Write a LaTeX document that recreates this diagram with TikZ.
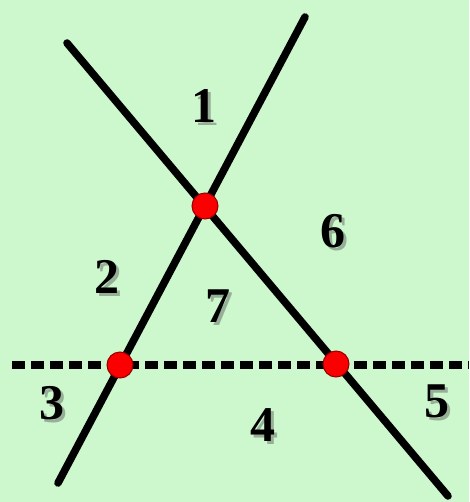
\documentclass[tikz,border=0pt]{standalone}
\usepackage{fontspec}
\setmainfont{Liberation Serif}
\definecolor{bg}{RGB}{205,247,205}
\definecolor{dotred}{RGB}{250,0,0}
\definecolor{dotedge}{RGB}{150,0,0}
\definecolor{shad}{RGB}{150,175,150}
\newcommand{\shadtxt}[1]{\rlap{\kern3pt\raisebox{-3pt}{\textcolor{shad}{#1}}}#1}
\begin{document}
\begin{tikzpicture}[x=1pt,y=-1pt,
  ln/.style={line width=7.5pt,black,line cap=round},
  dln/.style={line width=7.5pt,black,dash pattern=on 13pt off 6pt},
  dot/.style={circle,fill=dotred,draw=dotedge,line width=1pt,minimum size=26pt,inner sep=0pt},
  lab/.style={font=\fontsize{50}{50}\selectfont\bfseries,text=black,inner sep=0pt}]
\fill[bg] (0,0) rectangle (469,502);
\useasboundingbox (0,0) rectangle (469,502);
\coordinate (a1) at (67,43);
\coordinate (a2) at (448,496);
\coordinate (b1) at (305,17);
\coordinate (b2) at (58,483);
\coordinate (c1) at (12,365);
\coordinate (c2) at (469,365);
% soft shadows of the lines
\begin{scope}[opacity=0.18,shift={(3,3)}]
\draw[ln] (a1) -- (a2);
\draw[ln] (b1) -- (b2);
\end{scope}
\draw[ln] (a1) -- (a2);
\draw[ln] (b1) -- (b2);
\draw[dln] (c1) -- (c2);
\node[dot] (p1) at (205,206) {};
\node[dot] (p2) at (120,365) {};
\node[dot] (p3) at (336,364) {};
\foreach \n/\x/\y in {1/204/107,6/333/233,2/107/278,7/218/308,3/52/405,4/263/427,5/437/403}{
  \node[lab] (l\n) at (\x,\y) {\shadtxt{\n}};
}
\end{tikzpicture}
\end{document}
